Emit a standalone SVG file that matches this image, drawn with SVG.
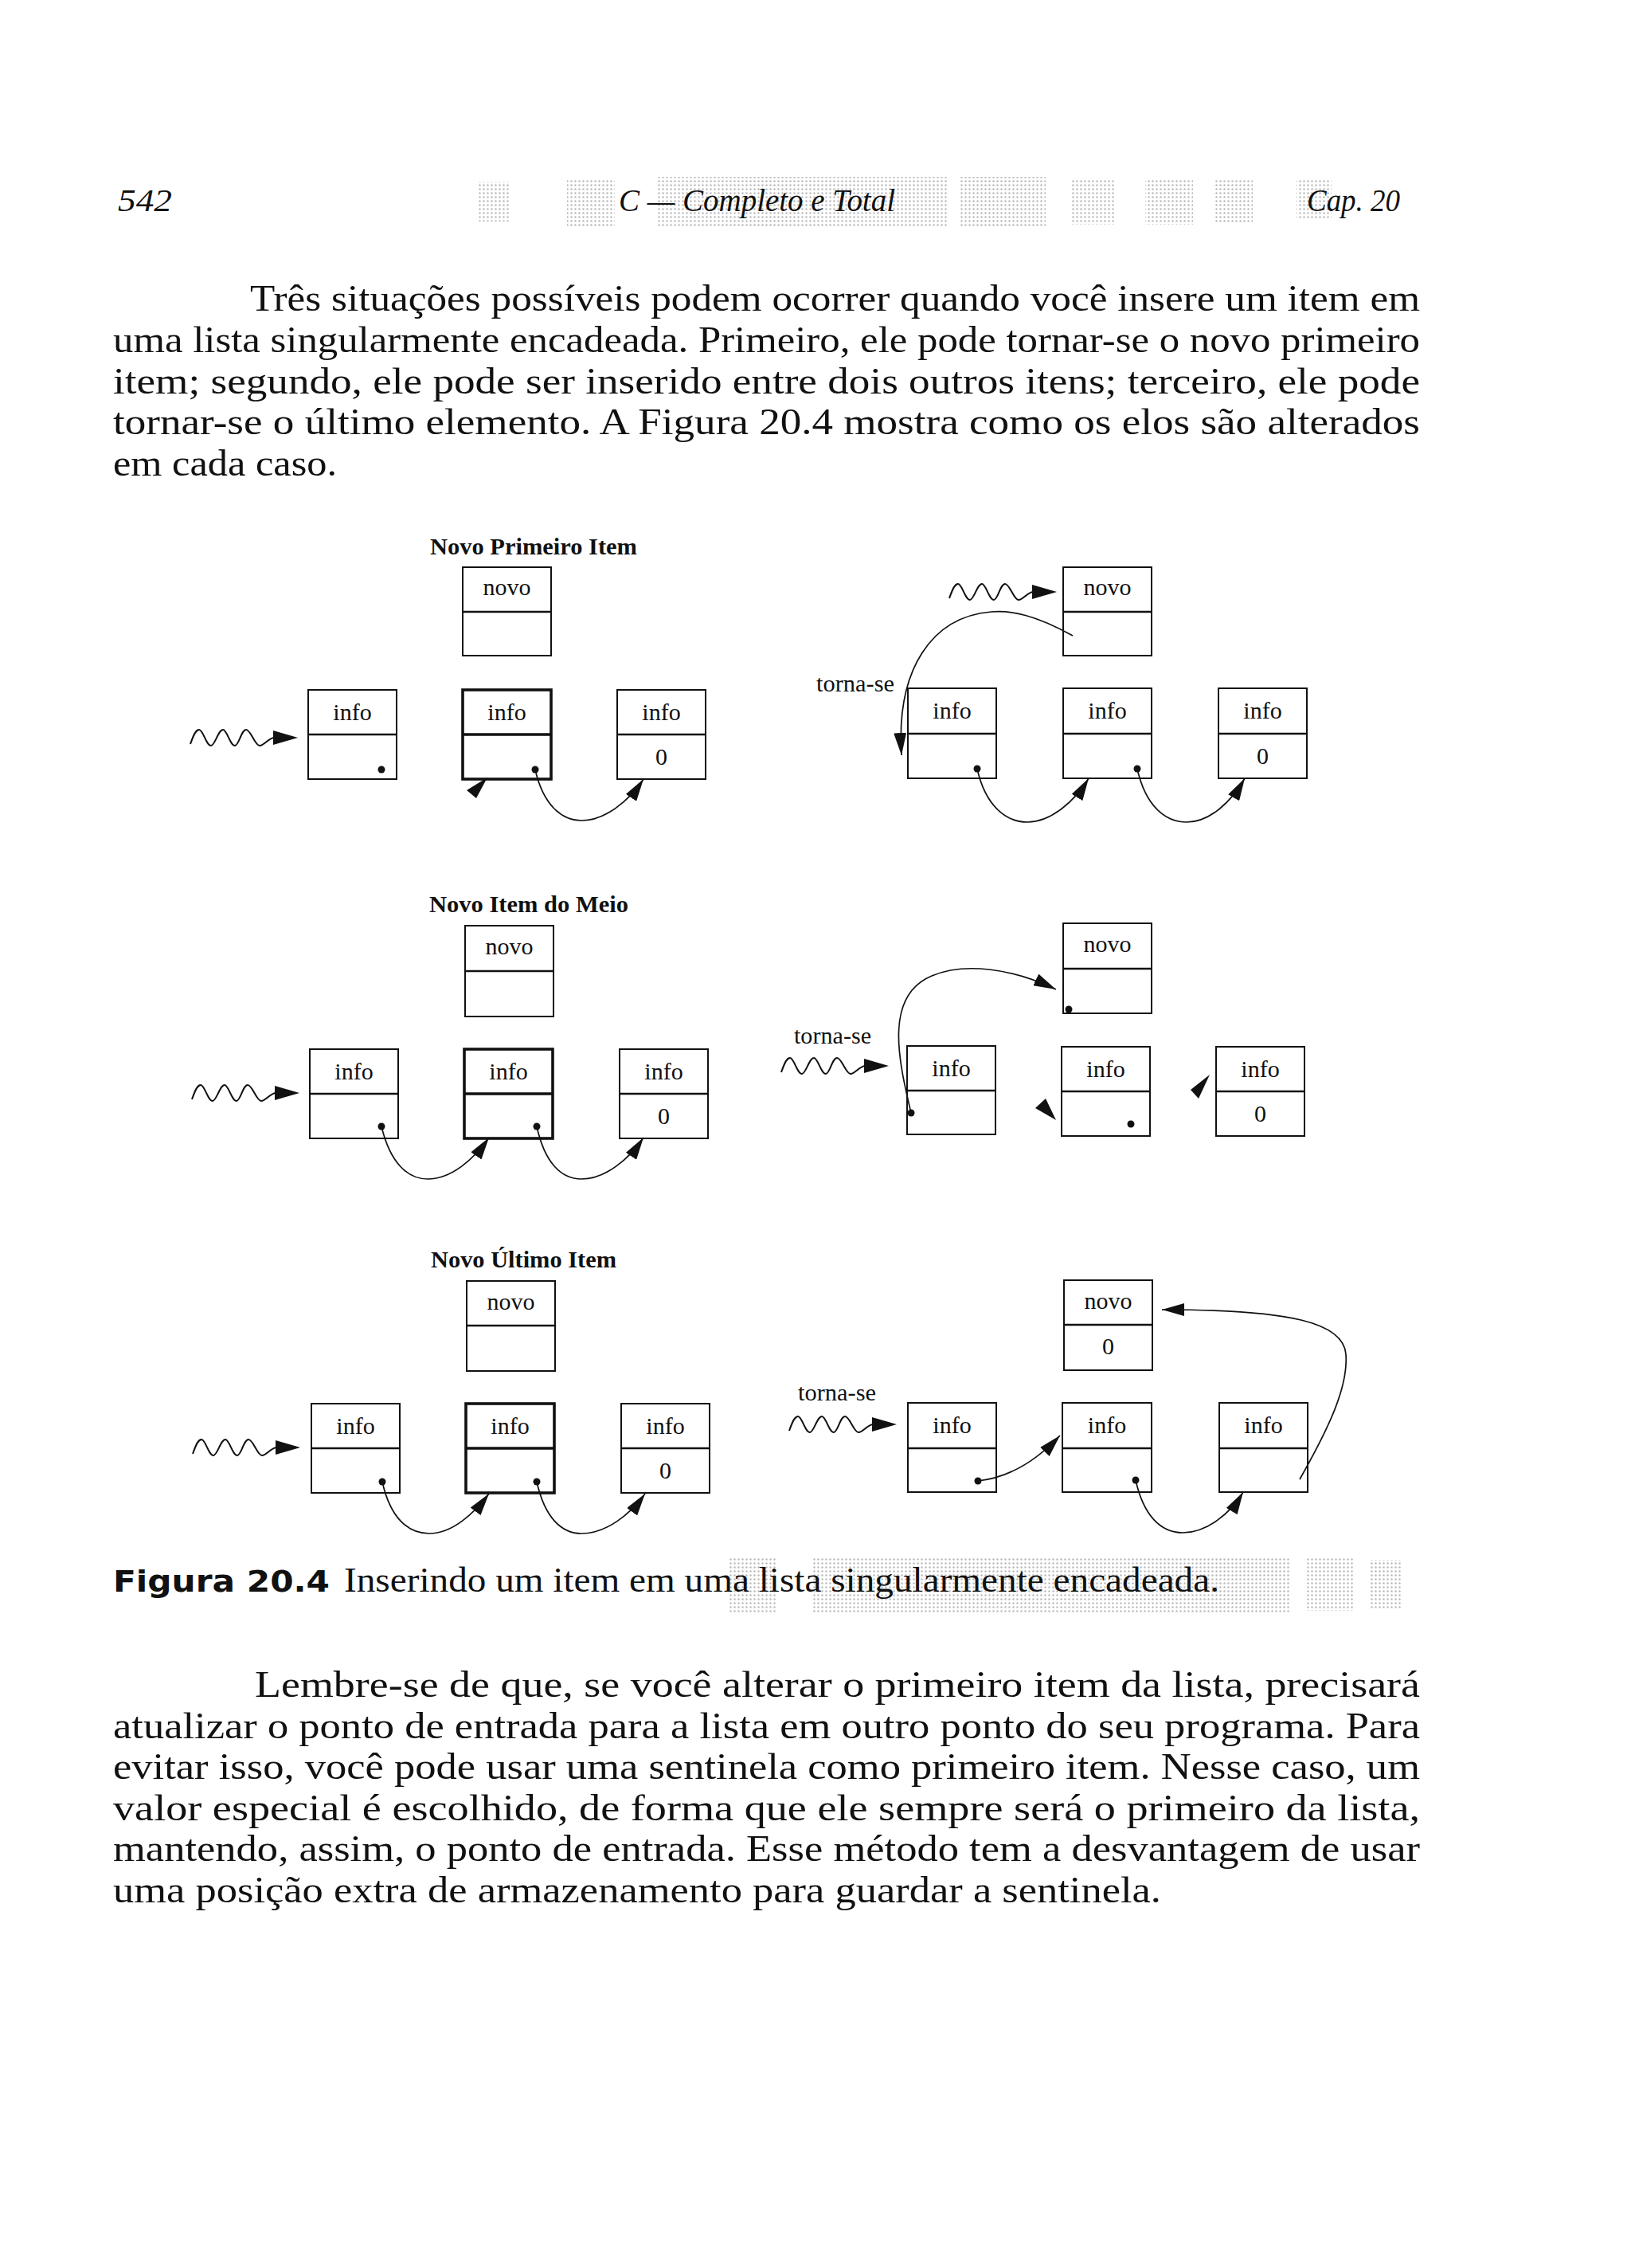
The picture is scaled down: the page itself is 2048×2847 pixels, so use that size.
<svg xmlns="http://www.w3.org/2000/svg" xmlns:xlink="http://www.w3.org/1999/xlink" width="2048" height="2847" viewBox="0 0 2048 2847">
<style>
.body{font-family:"Liberation Serif","Times New Roman",serif;font-size:46px;fill:#111}
.hdr{font-family:"Liberation Serif","Times New Roman",serif;font-size:40px;font-style:italic;fill:#111}
.cap{font-family:"DejaVu Sans",Lato,sans-serif;font-size:38px;font-weight:bold;fill:#111}
.capt{font-family:"Liberation Serif","Times New Roman",serif;font-size:44px;fill:#111}
.ttl{font-family:"Liberation Serif","Times New Roman",serif;font-size:29px;font-weight:bold;fill:#111}
.lbl{font-family:"Liberation Serif","Times New Roman",serif;font-size:30px;fill:#111;text-anchor:middle}
.tse{font-family:"Liberation Serif","Times New Roman",serif;font-size:29px;fill:#111}
.box rect{fill:#fff;stroke:#111;stroke-width:2}
.box line{stroke:#111;stroke-width:2.5}
.box.thick rect{stroke-width:3.6}
.box.thick line{stroke-width:3.6}
.dot{fill:#111}
.arc{fill:none;stroke:#111;stroke-width:1.7}
.ahd{fill:#111}
.sq path{fill:none;stroke:#111;stroke-width:2}
.sq polygon{fill:#111}
.ht{fill:url(#dots)}
</style>
<defs>
<pattern id="dots" width="5" height="5" patternUnits="userSpaceOnUse">
<circle cx="2.5" cy="2.5" r="1.2" fill="#8c8c8c"/>
</pattern>
<marker id="ah" viewBox="0 0 28 16" refX="28" refY="8" markerWidth="28" markerHeight="16" markerUnits="userSpaceOnUse" orient="auto">
<path d="M0,0 L28,8 L0,16 z" fill="#111"/>
</marker>
<g id="sq" class="sq">
<path d="M0,8 C3,0 6,-10 11,-10 C16,-10 20,10 26,10 C31,10 35,-10 41,-10 C46,-10 50,10 56,10 C61,10 64,-10 70,-10 C76,-10 81,10 87,10 C93,10 98,0 106,0"/>
<polygon points="104,-9 135,0 104,9"/>
</g>
</defs>
<rect width="2048" height="2847" fill="#fff"/>

<!-- halftone scan artefacts -->
<g id="halftone" opacity="0.6">
<rect class="ht" x="600" y="228" width="40" height="50"/>
<rect class="ht" x="712" y="224" width="60" height="60"/>
<rect class="ht" x="825" y="222" width="365" height="62"/>
<rect class="ht" x="1205" y="222" width="108" height="62"/>
<rect class="ht" x="1346" y="224" width="54" height="58"/>
<rect class="ht" x="1438" y="224" width="60" height="58"/>
<rect class="ht" x="1525" y="226" width="48" height="54"/>
<rect class="ht" x="1628" y="226" width="44" height="50"/>
<rect class="ht" x="915" y="1956" width="60" height="68"/>
<rect class="ht" x="1020" y="1954" width="600" height="72"/>
<rect class="ht" x="1640" y="1956" width="60" height="66"/>
<rect class="ht" x="1720" y="1958" width="40" height="62"/>
</g>

<!-- header -->
<g id="header">
<text class="hdr" x="148" y="265" textLength="68" lengthAdjust="spacingAndGlyphs">542</text>
<text class="hdr" x="777" y="265" textLength="347" lengthAdjust="spacingAndGlyphs">C — Completo e Total</text>
<text class="hdr" x="1641" y="265" textLength="117" lengthAdjust="spacingAndGlyphs">Cap. 20</text>
</g>

<!-- paragraph 1 -->
<g id="para1" class="body">
<text x="314" y="390" textLength="1469" lengthAdjust="spacingAndGlyphs">Três situações possíveis podem ocorrer quando você insere um item em</text>
<text x="142" y="442" textLength="1641" lengthAdjust="spacingAndGlyphs">uma lista singularmente encadeada. Primeiro, ele pode tornar-se o novo primeiro</text>
<text x="142" y="494" textLength="1641" lengthAdjust="spacingAndGlyphs">item; segundo, ele pode ser inserido entre dois outros itens; terceiro, ele pode</text>
<text x="142" y="545" textLength="1641" lengthAdjust="spacingAndGlyphs">tornar-se o último elemento. A Figura 20.4 mostra como os elos são alterados</text>
<text x="142" y="597" textLength="281" lengthAdjust="spacingAndGlyphs">em cada caso.</text>
</g>

<!-- titles -->
<text id="title1" class="ttl" x="540" y="696" textLength="260" lengthAdjust="spacingAndGlyphs">Novo Primeiro Item</text>
<text id="title2" class="ttl" x="539" y="1145" textLength="250" lengthAdjust="spacingAndGlyphs">Novo Item do Meio</text>
<text id="title3" class="ttl" x="541" y="1591" textLength="233" lengthAdjust="spacingAndGlyphs">Novo Último Item</text>

<!-- torna-se labels -->
<text id="torna1" class="tse" x="1025" y="868" textLength="98" lengthAdjust="spacingAndGlyphs">torna-se</text>
<text id="torna2" class="tse" x="997" y="1310" textLength="97" lengthAdjust="spacingAndGlyphs">torna-se</text>
<text id="torna3" class="tse" x="1002" y="1758" textLength="98" lengthAdjust="spacingAndGlyphs">torna-se</text>

<!-- ROW 1 LEFT -->
<g id="r1l-novo" class="box"><rect x="581" y="712" width="111" height="111"/><line x1="581" y1="768" x2="692" y2="768"/><text class="lbl" x="636.5" y="747">novo</text></g>
<g id="r1l-a" class="box"><rect x="387" y="866" width="111" height="112"/><line x1="387" y1="922" x2="498" y2="922"/><text class="lbl" x="442.5" y="904">info</text></g>
<g id="r1l-b" class="box thick"><rect x="581" y="866" width="111" height="112"/><line x1="581" y1="922" x2="692" y2="922"/><text class="lbl" x="636.5" y="904">info</text></g>
<g id="r1l-c" class="box"><rect x="775" y="866" width="111" height="112"/><line x1="775" y1="922" x2="886" y2="922"/><text class="lbl" x="830.5" y="904">info</text><text class="lbl" x="830.5" y="960">0</text></g>

<!-- ROW 1 RIGHT -->
<g id="r1r-novo" class="box"><rect x="1335" y="712" width="111" height="111"/><line x1="1335" y1="768" x2="1446" y2="768"/><text class="lbl" x="1390.5" y="747">novo</text></g>
<g id="r1r-a" class="box"><rect x="1140" y="864" width="111" height="113"/><line x1="1140" y1="921" x2="1251" y2="921"/><text class="lbl" x="1195.5" y="902">info</text></g>
<g id="r1r-b" class="box"><rect x="1335" y="864" width="111" height="113"/><line x1="1335" y1="921" x2="1446" y2="921"/><text class="lbl" x="1390.5" y="902">info</text></g>
<g id="r1r-c" class="box"><rect x="1530" y="864" width="111" height="113"/><line x1="1530" y1="921" x2="1641" y2="921"/><text class="lbl" x="1585.5" y="902">info</text><text class="lbl" x="1585.5" y="959">0</text></g>

<!-- ROW 2 LEFT -->
<g id="r2l-novo" class="box"><rect x="584" y="1162" width="111" height="114"/><line x1="584" y1="1219" x2="695" y2="1219"/><text class="lbl" x="639.5" y="1198">novo</text></g>
<g id="r2l-a" class="box"><rect x="389" y="1317" width="111" height="112"/><line x1="389" y1="1373" x2="500" y2="1373"/><text class="lbl" x="444.5" y="1355">info</text></g>
<g id="r2l-b" class="box thick"><rect x="583" y="1317" width="111" height="112"/><line x1="583" y1="1373" x2="694" y2="1373"/><text class="lbl" x="638.5" y="1355">info</text></g>
<g id="r2l-c" class="box"><rect x="778" y="1317" width="111" height="112"/><line x1="778" y1="1373" x2="889" y2="1373"/><text class="lbl" x="833.5" y="1355">info</text><text class="lbl" x="833.5" y="1411">0</text></g>

<!-- ROW 2 RIGHT -->
<g id="r2r-novo" class="box"><rect x="1335" y="1159" width="111" height="113"/><line x1="1335" y1="1216" x2="1446" y2="1216"/><text class="lbl" x="1390.5" y="1195">novo</text></g>
<g id="r2r-a" class="box"><rect x="1139" y="1313" width="111" height="111"/><line x1="1139" y1="1369" x2="1250" y2="1369"/><text class="lbl" x="1194.5" y="1351">info</text></g>
<g id="r2r-b" class="box"><rect x="1333" y="1314" width="111" height="112"/><line x1="1333" y1="1370" x2="1444" y2="1370"/><text class="lbl" x="1388.5" y="1352">info</text></g>
<g id="r2r-c" class="box"><rect x="1527" y="1314" width="111" height="112"/><line x1="1527" y1="1370" x2="1638" y2="1370"/><text class="lbl" x="1582.5" y="1352">info</text><text class="lbl" x="1582.5" y="1408">0</text></g>

<!-- ROW 3 LEFT -->
<g id="r3l-novo" class="box"><rect x="586" y="1608" width="111" height="113"/><line x1="586" y1="1664" x2="697" y2="1664"/><text class="lbl" x="641.5" y="1644">novo</text></g>
<g id="r3l-a" class="box"><rect x="391" y="1762" width="111" height="112"/><line x1="391" y1="1818" x2="502" y2="1818"/><text class="lbl" x="446.5" y="1800">info</text></g>
<g id="r3l-b" class="box thick"><rect x="585" y="1762" width="111" height="112"/><line x1="585" y1="1818" x2="696" y2="1818"/><text class="lbl" x="640.5" y="1800">info</text></g>
<g id="r3l-c" class="box"><rect x="780" y="1762" width="111" height="112"/><line x1="780" y1="1818" x2="891" y2="1818"/><text class="lbl" x="835.5" y="1800">info</text><text class="lbl" x="835.5" y="1856">0</text></g>

<!-- ROW 3 RIGHT -->
<g id="r3r-novo" class="box"><rect x="1336" y="1607" width="111" height="113"/><line x1="1336" y1="1663" x2="1447" y2="1663"/><text class="lbl" x="1391.5" y="1643">novo</text><text class="lbl" x="1391.5" y="1700">0</text></g>
<g id="r3r-a" class="box"><rect x="1140" y="1761" width="111" height="112"/><line x1="1140" y1="1818" x2="1251" y2="1818"/><text class="lbl" x="1195.5" y="1799">info</text></g>
<g id="r3r-b" class="box"><rect x="1334" y="1761" width="112" height="112"/><line x1="1334" y1="1818" x2="1446" y2="1818"/><text class="lbl" x="1390" y="1799">info</text></g>
<g id="r3r-c" class="box"><rect x="1531" y="1761" width="111" height="112"/><line x1="1531" y1="1818" x2="1642" y2="1818"/><text class="lbl" x="1586.5" y="1799">info</text></g>

<!-- connectors -->
<g id="connectors">
<use xlink:href="#sq" href="#sq" x="239" y="926"/>
<use xlink:href="#sq" href="#sq" x="1192" y="743"/>
<use xlink:href="#sq" href="#sq" x="241" y="1372"/>
<use xlink:href="#sq" href="#sq" x="981" y="1338"/>
<use xlink:href="#sq" href="#sq" x="242" y="1817"/>
<use xlink:href="#sq" href="#sq" x="991" y="1788"/>

<!-- row 1 left -->
<polygon class="ahd" points="612,976 586,992 598,1002"/>
<path class="arc" marker-end="url(#ah)" d="M672,966 C682,1010 705,1030 730,1030 C760,1030 790,1005 808,978"/>
<!-- row 1 right -->
<path class="arc" marker-end="url(#ah)" d="M1347,798 C1300,772 1270,766 1245,768 C1170,774 1125,840 1132,948"/>
<path class="arc" marker-end="url(#ah)" d="M1227,965 C1237,1010 1262,1032 1290,1032 C1320,1032 1350,1005 1367,977"/>
<path class="arc" marker-end="url(#ah)" d="M1428,965 C1438,1010 1462,1032 1490,1032 C1520,1032 1547,1005 1563,977"/>
<!-- row 2 left -->
<path class="arc" marker-end="url(#ah)" d="M479,1414 C490,1460 512,1480 537,1480 C567,1480 595,1455 614,1428"/>
<path class="arc" marker-end="url(#ah)" d="M674,1414 C684,1460 705,1480 730,1480 C760,1480 790,1455 808,1428"/>
<!-- row 2 right -->
<path class="arc" marker-end="url(#ah)" d="M1144,1397 C1128,1330 1110,1250 1170,1225 C1210,1208 1270,1215 1326,1242"/>
<polygon class="ahd" points="1326,1406 1300,1391 1313,1379"/>
<polygon class="ahd" points="1519,1349 1495,1368 1505,1379"/>
<!-- row 3 left -->
<path class="arc" marker-end="url(#ah)" d="M480,1860 C490,1905 512,1925 539,1925 C568,1925 595,1900 614,1875"/>
<path class="arc" marker-end="url(#ah)" d="M674,1860 C684,1905 705,1925 730,1925 C762,1925 792,1900 810,1875"/>
<!-- row 3 right -->
<path class="arc" marker-end="url(#ah)" d="M1228,1859 C1265,1855 1300,1835 1331,1802"/>
<path class="arc" marker-end="url(#ah)" d="M1426,1858 C1436,1903 1458,1924 1485,1924 C1515,1924 1545,1900 1561,1873"/>
<path class="arc" marker-end="url(#ah)" d="M1632,1857 C1670,1790 1693,1740 1690,1700 C1687,1660 1620,1644 1459,1644"/>
</g>

<!-- pointer dots -->
<g id="dots-grp">
<circle class="dot" cx="479" cy="966" r="4.5"/>
<circle class="dot" cx="672" cy="966" r="4.5"/>
<circle class="dot" cx="1227" cy="965" r="4.5"/>
<circle class="dot" cx="1428" cy="965" r="4.5"/>
<circle class="dot" cx="479" cy="1414" r="4.5"/>
<circle class="dot" cx="674" cy="1414" r="4.5"/>
<circle class="dot" cx="1144" cy="1397" r="4.5"/>
<circle class="dot" cx="1342" cy="1267" r="4.5"/>
<circle class="dot" cx="1420" cy="1411" r="4.5"/>
<circle class="dot" cx="480" cy="1860" r="4.5"/>
<circle class="dot" cx="674" cy="1860" r="4.5"/>
<circle class="dot" cx="1228" cy="1859" r="4.5"/>
<circle class="dot" cx="1426" cy="1858" r="4.5"/>
</g>

<!-- caption -->
<g id="caption">
<text class="cap" x="142" y="1998" textLength="272" lengthAdjust="spacingAndGlyphs">Figura 20.4</text>
<text class="capt" x="432" y="1998" textLength="1099" lengthAdjust="spacingAndGlyphs">Inserindo um item em uma lista singularmente encadeada.</text>
</g>

<!-- paragraph 2 -->
<g id="para2" class="body">
<text x="320" y="2130" textLength="1463" lengthAdjust="spacingAndGlyphs">Lembre-se de que, se você alterar o primeiro item da lista, precisará</text>
<text x="142" y="2182" textLength="1641" lengthAdjust="spacingAndGlyphs">atualizar o ponto de entrada para a lista em outro ponto do seu programa. Para</text>
<text x="142" y="2233" textLength="1641" lengthAdjust="spacingAndGlyphs">evitar isso, você pode usar uma sentinela como primeiro item. Nesse caso, um</text>
<text x="142" y="2285" textLength="1641" lengthAdjust="spacingAndGlyphs">valor especial é escolhido, de forma que ele sempre será o primeiro da lista,</text>
<text x="142" y="2336" textLength="1641" lengthAdjust="spacingAndGlyphs">mantendo, assim, o ponto de entrada. Esse método tem a desvantagem de usar</text>
<text x="142" y="2388" textLength="1316" lengthAdjust="spacingAndGlyphs">uma posição extra de armazenamento para guardar a sentinela.</text>
</g>
</svg>
